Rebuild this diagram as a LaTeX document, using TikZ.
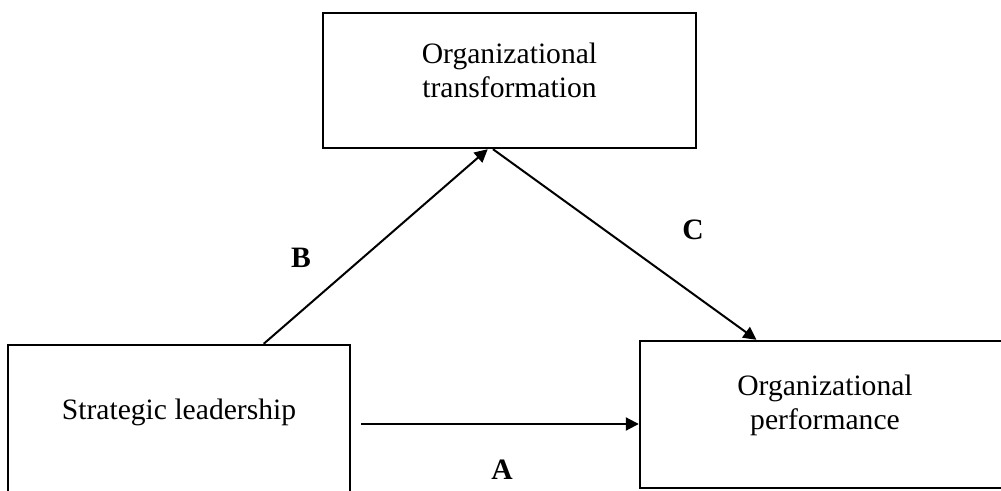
\documentclass[tikz,border=0pt]{standalone}
\usepackage{fontspec}
\setmainfont{Liberation Serif}
\usetikzlibrary{arrows.meta,calc}

\tikzset{
  modelbox/.style={draw,line width=1.2pt,inner sep=0pt},
  boxtext/.style={align=center,font=\fontsize{14.8}{17}\selectfont},
  pathlabel/.style={font=\fontsize{14.8}{17}\selectfont\bfseries},
}

\begin{document}
\begin{tikzpicture}[line cap=butt,line join=miter,>={Triangle[length=6.5pt,width=6.5pt]},x=0.5pt,y=-0.5pt]
    \useasboundingbox (0,0) rectangle (1001,491);
    % boxes
    \node[modelbox,minimum width=186.5pt,minimum height=67.5pt] (trans) at (509.5,80.5) {};
    \node[modelbox,minimum width=171pt,minimum height=80pt] (lead) at (179,425) {};
    \node[modelbox,minimum width=185pt,minimum height=73.5pt] (perf) at (825,414.5) {};
    \node[boxtext] (transtxt) at (509.5,70) {Organizational\\transformation};
    \node[boxtext] (leadtxt) at (179,412) {Strategic leadership};
    \node[boxtext] (perftxt) at (825,405) {Organizational\\performance};
    % paths
    \coordinate (astart) at (361,424);
    \draw[->,line width=1pt] ($(lead.north west)!0.746!(lead.north east)$) -- ($(trans.south west)!0.442!(trans.south east)$);
    \draw[->,line width=1pt] ($(trans.south west)!0.456!(trans.south east)$) -- ($(perf.north west)!0.316!(perf.north east)$);
    \draw[->,line width=1pt] (astart) -- (perf.west |- astart);
    \node[pathlabel] (labB) at (301,258) {B};
    \node[pathlabel] (labC) at (693,230) {C};
    \node[pathlabel] (labA) at (502,470) {A};
\end{tikzpicture}
\end{document}
